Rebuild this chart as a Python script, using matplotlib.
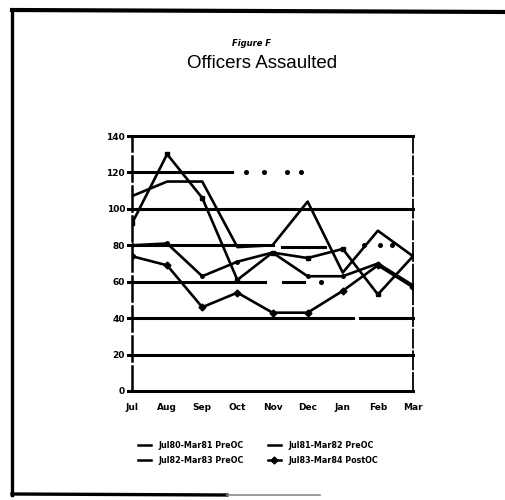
import matplotlib
matplotlib.use("Agg")
import matplotlib.pyplot as plt
from matplotlib.lines import Line2D

months = ['Jul', 'Aug', 'Sep', 'Oct', 'Nov', 'Dec', 'Jan', 'Feb', 'Mar']
s80 = [92, 130, 106, 61, 76, 73, 78, 53, 74]
s81 = [107, 115, 115, 79, 80, 104, 65, 88, 74]
s82 = [80, 81, 63, 71, 76, 63, 63, 70, 58]
s83 = [74, 69, 46, 54, 43, 43, 55, 69, 57]
labels = ['Jul80-Mar81 PreOC', 'Jul81-Mar82 PreOC',
          'Jul82-Mar83 PreOC', 'Jul83-Mar84 PostOC']
yticks = [0, 20, 40, 60, 80, 100, 120, 140]

fig = plt.figure(figsize=(5.05, 5.0), dpi=100)
fig.patch.set_facecolor('white')
W, H = 505, 500
ax = fig.add_axes([132 / W, 1 - 391 / H, (413 - 132) / W, (391 - 136) / H])

x = list(range(len(months)))
lw = 1.9
ax.plot(x, s80, color='black', lw=lw, marker='s', ms=3.5, zorder=3)
ax.plot(x, s81, color='black', lw=lw, zorder=3)
ax.plot(x, s82, color='black', lw=lw, marker='o', ms=2.5, zorder=3)
ax.plot(x, s83, color='black', lw=lw, marker='D', ms=3.5, zorder=3)

# horizontal grid lines (partly broken as in the scan)
glw = 2.2
for v in [0, 20, 100, 140]:
    ax.plot([-0.12, 8], [v, v], color='black', lw=glw, clip_on=False, zorder=2)
ax.plot([-0.12, 6.3], [40, 40], color='black', lw=glw, clip_on=False, zorder=2)
ax.plot([6.5, 8], [40, 40], color='black', lw=glw, clip_on=False, zorder=2)
# 120 line
ax.plot([-0.12, 2.85], [120, 120], color='black', lw=glw, clip_on=False, zorder=2)
ax.plot([3.25, 3.75, 4.4, 4.8], [120] * 4, ls='none', marker='o', ms=2.6,
        color='black', zorder=2)
# 80 line
ax.plot([-0.12, 4.0], [80, 80], color='black', lw=glw, clip_on=False, zorder=2)
ax.plot([4.27, 5.5], [79, 79], color='black', lw=glw, zorder=2)
ax.plot([6.6, 7.05, 7.4], [80] * 3, ls='none', marker='o', ms=2.6,
        color='black', zorder=2)
# 60 line
ax.plot([-0.12, 3.8], [60, 60], color='black', lw=glw, clip_on=False, zorder=2)
ax.plot([4.3, 4.9], [60, 60], color='black', lw=glw, zorder=2)
ax.plot([5.37], [60], ls='none', marker='o', ms=2.6, color='black', zorder=2)

ax.set_xlim(0, 8)
ax.set_ylim(0, 140)
ax.set_xticks(x)
ax.set_xticklabels(months)
ax.set_yticks(yticks)
ax.set_yticklabels([str(v) for v in yticks])
ax.tick_params(length=0, labelsize=6.5)
ax.tick_params(axis='x', pad=9)
ax.tick_params(axis='y', pad=5)
for lab in ax.get_xticklabels() + ax.get_yticklabels():
    lab.set_fontweight('bold')
for side in ['top', 'bottom']:
    ax.spines[side].set_visible(False)
ax.spines['left'].set_linewidth(1.8)
ax.spines['left'].set_linestyle((0, (10, 2)))
ax.spines['right'].set_linewidth(1.3)
ax.spines['right'].set_linestyle((0, (10, 2)))

# legend
handles = [Line2D([], [], color='black', lw=1.8),
           Line2D([], [], color='black', lw=1.8),
           Line2D([], [], color='black', lw=1.8),
           Line2D([], [], color='black', lw=1.8, marker='D', ms=3.5)]
order = [0, 2, 1, 3]
leg = fig.legend([handles[i] for i in order], [labels[i] for i in order],
                 ncol=2, loc='center', bbox_to_anchor=(258 / W, 1 - 453 / H),
                 frameon=False, prop={'size': 5.8, 'weight': 'bold'},
                 handlelength=1.6, handletextpad=0.9, columnspacing=3.0,
                 labelspacing=0.8)

# titles
fig.text(252 / W, 1 - 43 / H, 'Figure F', ha='center', va='center',
         fontsize=6, fontweight='bold', fontstyle='italic')
fig.text(262 / W, 1 - 64 / H, 'Officers Assaulted', ha='center', va='center',
         fontsize=13.5, family='Liberation Sans')

# page frame
fig.add_artist(Line2D([12 / W, 12 / W], [1 - 10 / H, 1 - 495 / H],
                      color='black', lw=2.4, transform=fig.transFigure))
fig.add_artist(Line2D([12 / W, 1.0], [1 - 10 / H, 1 - 12 / H],
                      color='black', lw=3.0, transform=fig.transFigure))
fig.add_artist(Line2D([12 / W, 227 / W], [1 - 494 / H, 1 - 495 / H],
                      color='black', lw=2.4, transform=fig.transFigure))
fig.add_artist(Line2D([227 / W, 320 / W], [1 - 495 / H, 1 - 495 / H],
                      color='#888888', lw=1.2, transform=fig.transFigure))

fig.savefig('out.png', dpi=100, facecolor='white')
